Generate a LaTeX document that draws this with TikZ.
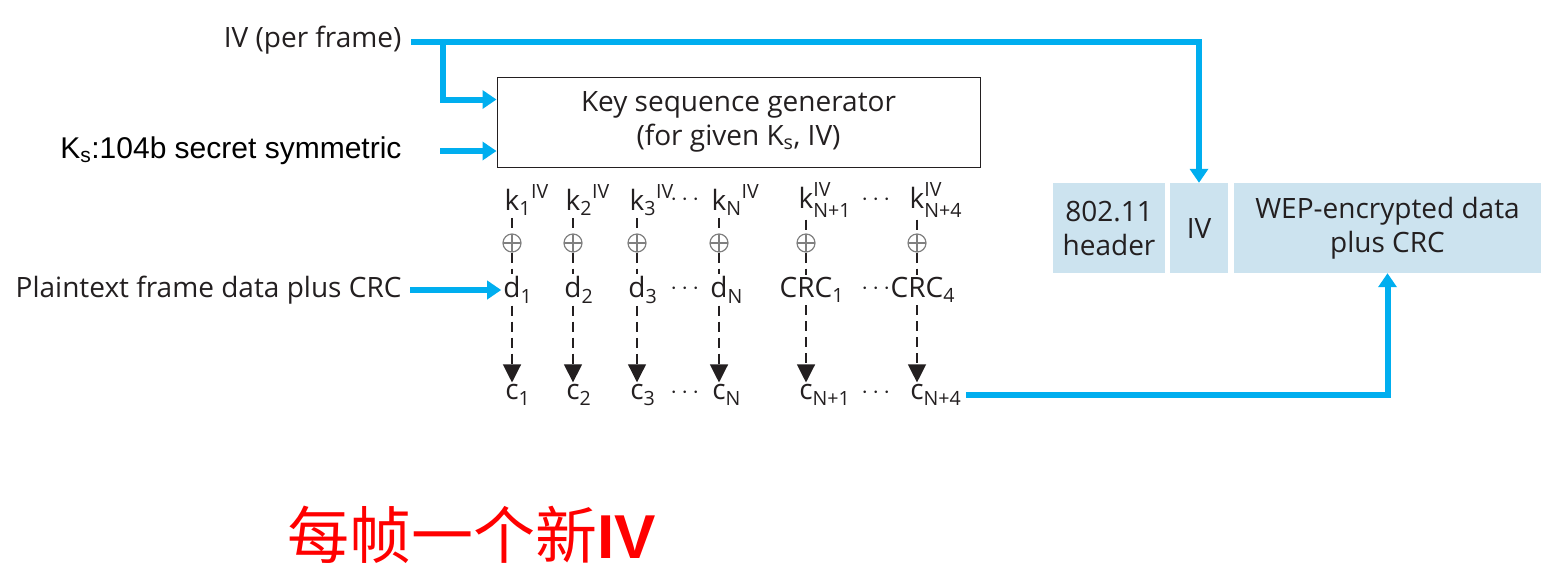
\documentclass[tikz,border=0pt]{standalone}
\usepackage{fontspec}
\usepackage{amsmath}
\setmainfont{Open Sans}
\newfontfamily\arialf{Liberation Sans}
\newfontfamily\cjk{Noto Sans CJK SC}
\usetikzlibrary{arrows.meta,calc}
\definecolor{wblue}{HTML}{00AEEF}
\definecolor{hbox}{HTML}{CCE3EF}
\definecolor{ink}{HTML}{231F20}
\newcommand\mysubsup[2]{\rlap{$_{\text{#1}}^{\text{\raisebox{3pt}{#2}}}$}}
\newcommand\mysubsupA[2]{\rlap{$_{\text{#1}}{}^{\text{\raisebox{3pt}{#2}}}$}}
\newcommand\mysub[1]{\rlap{$_{\text{#1}}$}}
\begin{document}
\begin{tikzpicture}[x=1pt,y=-1pt, font=\fontsize{28}{34}\selectfont, text=ink,
 blueline/.style={wblue, line width=6pt},
 bluearr/.style={blueline, -{Triangle[length=14pt,width=18pt]}},
 dline/.style={ink, line width=1.2pt, dash pattern=on 10pt off 6pt},
 darr/.style={dline, -{Triangle[length=18pt,width=18pt]}},
 hdr/.style={fill=hbox, inner sep=0pt, align=center, minimum height=90pt},
 letter/.style={inner sep=2pt},
 dotsn/.style={inner sep=0pt},
 xorn/.style={circle, draw=gray, line width=1.2pt, minimum size=18pt, inner sep=0pt,
   path picture={\draw[gray,line width=1.2pt] (path picture bounding box.north) -- (path picture bounding box.south) (path picture bounding box.west) -- (path picture bounding box.east);}},
]
\useasboundingbox (0,0) rectangle (1552,574);

% key sequence generator
\node[draw=ink, line width=1pt, minimum width=483pt, minimum height=90pt, align=center] (ksg) at (738.5,122) {Key sequence generator\\(for given K\textsubscript{s}, IV)};

% left labels
\node[anchor=east] (ivl) at (405,40) {IV (per frame)};
\node[anchor=east, font=\arialf\fontsize{30}{34}\selectfont, text=black] (ksl) at (405,151) {K\textsubscript{s}:104b secret symmetric};
\node[anchor=east] (ptl) at (405,290) {Plaintext frame data plus CRC};

% header boxes
\node[hdr, minimum width=112pt] (hh) at (1109,228) {802.11\\header};
\node[hdr, minimum width=58pt] (hiv) at (1199,228) {IV};
\node[hdr, minimum width=307pt] (hwep) at (1387.5,228) {WEP-encrypted data\\plus CRC};

% columns
\foreach \n/\x/\ks/\d/\c in {1/512/{\mysubsupA{1}{IV}}/{d\mysub{1}}/{c\mysub{1}},
                             2/573/{\mysubsupA{2}{IV}}/{d\mysub{2}}/{c\mysub{2}},
                             3/637/{\mysubsupA{3}{IV}}/{d\mysub{3}}/{c\mysub{3}},
                             4/719/{\mysubsupA{N}{IV}}/{d\mysub{N}}/{c\mysub{N}},
                             5/806/{\mysubsup{N+1}{IV}}/{CRC\mysub{1}}/{c\mysub{N+1}},
                             6/917/{\mysubsup{N+4}{IV}}/{CRC\mysub{4}}/{c\mysub{N+4}}}{
  \node[letter] (k\n) at (\x,200) {k\ks};
  \node[xorn] (x\n) at (\x,243) {};
  \node[letter] (d\n) at (\x,290) {\d};
  \node[letter] (c\n) at (\x,395) {\c};
  \draw[dline] (k\n) -- (x\n);
  \draw[dline] (x\n) -- (d\n);
  \draw[darr] (d\n) -- (c\n);
}
% dots
\foreach \y/\r in {200/k,289/d,393/c}{
  \node[dotsn] (dl\r) at (687,\y) {$\cdots$};
  \node[dotsn] (dr\r) at (878,\y) {$\cdots$};
}

% blue connectors
\coordinate (br) at (443,42);
\draw[blueline] ([xshift=6pt,yshift=-2pt]ivl.east) -- (br);
\draw[bluearr] (br) -| (hiv.north);
\draw[bluearr] (br) |- ([yshift=-23pt]ksg.north west);
\draw[bluearr] ([xshift=35pt]ksl.east) -- (ksg.west |- ksl.east);
\draw[bluearr] ([xshift=5pt]ptl.east) -- (d1.west);
\draw[bluearr] ([xshift=40pt]c6.east) -| (hwep.south);

% Chinese caption
\node[text=red, font=\cjk\fontsize{62}{64}\selectfont] (cap) at (472,535) {每帧一个新{\arialf\bfseries IV}};
\end{tikzpicture}
\end{document}
